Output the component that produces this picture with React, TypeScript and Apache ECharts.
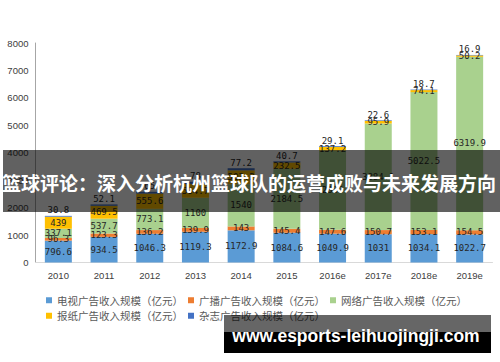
import React, { useEffect, useRef } from "react";
import * as echarts from "echarts";

const categories = ["2010", "2011", "2012", "2013", "2014", "2015", "2016e", "2017e", "2018e", "2019e"];
const tvValues = [796.6, 934.5, 1046.3, 1119.3, 1172.9, 1084.6, 1049.9, 1031, 1034.1, 1022.7];
const radioValues = [96.3, 123.3, 136.2, 139.9, 143, 145.4, 147.6, 150.7, 153.1, 154.5];
const onlineValues = [337.1, 537.7, 773.1, 1100, 1540, 2184.5, 2882, 3884.1, 5022.5, 6319.9];
const newspaperValues = [439, 469.5, 555.6, 504.7, 503.2, 232.5, 137.2, 95.9, 74.1, 50.2];
const magazineValues = [30.8, 52.1, 65, 78, 77.2, 40.7, 29.1, 22.6, 18.7, 16.9];
const seriesNames = [
  "电视广告收入规模（亿元）",
  "广播广告收入规模（亿元）",
  "网络广告收入规模（亿元）",
  "报纸广告收入规模（亿元）",
  "杂志广告收入规模（亿元）",
];
const seriesColors = ["#5B9BD5", "#ED7D31", "#A9D18E", "#FFC000", "#4472C4"];
const bannerTitle = "篮球评论：深入分析杭州篮球队的运营成败与未来发展方向";
const watermark = "www.esports-leihuojingji.com";

export default function App() {
  const ref = useRef<HTMLDivElement>(null);
  useEffect(() => {
    document.body.style.margin = "0";
    if (!ref.current) return;
    const chart = echarts.init(ref.current, null, { renderer: "svg" });
    const labelStyle = {
      show: true,
      position: "inside",
      color: "#262626",
      fontSize: 9,
      fontFamily: "DejaVu Sans Mono",
      formatter: (p: any) => String(p.value),
    };
    const allData = [tvValues, radioValues, onlineValues, newspaperValues, magazineValues];
    const series = allData.map((d, i) => ({
      name: seriesNames[i],
      type: "bar",
      stack: "total",
      barWidth: 27,
      data: d,
      itemStyle: { color: seriesColors[i] },
      label: i === 4 ? { ...labelStyle, position: "top", distance: 1 } : labelStyle,
    }));
    chart.setOption({
      animation: false,
      backgroundColor: "#ffffff",
      grid: { left: 35.5, right: 7.5, top: 43, bottom: 99.5 },
      legend: {
        data: seriesNames,
        left: 46,
        top: 295,
        width: 440,
        padding: 0,
        itemWidth: 6,
        itemHeight: 6,
        itemGap: 5,
        icon: "rect",
        textStyle: { fontSize: 10.5, color: "#595959", lineHeight: 10, fontFamily: "Noto Sans CJK SC" },
      },
      xAxis: {
        type: "category",
        data: categories,
        axisLine: { show: true, lineStyle: { color: "#d9d9d9" } },
        axisTick: { show: false },
        axisLabel: { color: "#404040", fontSize: 9.5, margin: 8, fontFamily: "Liberation Sans" },
      },
      yAxis: {
        type: "value",
        min: 0,
        max: 8000,
        interval: 1000,
        axisLine: { show: true, lineStyle: { color: "#a6a6a6" } },
        axisTick: { show: false },
        splitLine: { show: false },
        axisLabel: {
          color: "#404040",
          fontSize: 9.5,
          margin: 7,
          fontFamily: "Liberation Sans",
          formatter: (v: number) => String(v),
        },
      },
      series,
      graphic: [
        {
          type: "rect",
          z: 100,
          shape: { x: 3, y: 150, width: 497, height: 62 },
          style: { fill: "rgba(0,0,0,0.62)" },
        },
        {
          type: "text",
          z: 101,
          x: 249,
          y: 182,
          style: {
            text: bannerTitle,
            fill: "#ffffff",
            fontSize: 19,
            fontWeight: "bold",
            fontFamily: "Noto Sans CJK SC",
            align: "center",
            verticalAlign: "middle",
          },
        },
        {
          type: "rect",
          z: 100,
          shape: { x: 224, y: 315, width: 267, height: 17 },
          style: { fill: "rgba(0,0,0,0.6)" },
        },
        {
          type: "rect",
          z: 100,
          shape: { x: 224, y: 332, width: 267, height: 21 },
          style: { fill: "#000000" },
        },
        {
          type: "text",
          z: 101,
          x: 356,
          y: 336,
          style: {
            text: watermark,
            fill: "#ffffff",
            fontSize: 17.5,
            fontWeight: "bold",
            fontFamily: "Liberation Sans",
            align: "center",
            verticalAlign: "middle",
          },
        },
      ],
    });
    return () => chart.dispose();
  }, []);
  return <div ref={ref} style={{ width: 500, height: 362 }} />;
}
